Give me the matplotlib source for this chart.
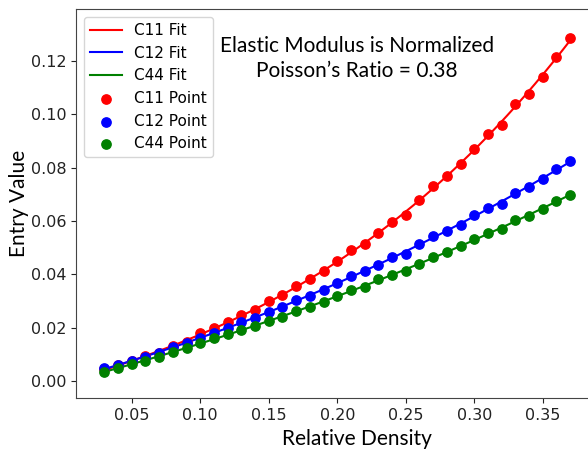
"""Normalized elastic constants vs relative density, with polynomial fits."""

import matplotlib

matplotlib.use("Agg")
import matplotlib.pyplot as plt
import numpy as np

density = np.round(np.arange(0.03, 0.375, 0.01), 2)

c11 = [0.0045, 0.0060, 0.0075, 0.0093, 0.0106, 0.0132, 0.0147, 0.0178, 0.0197,
       0.0221, 0.0246, 0.0266, 0.0298, 0.0321, 0.0357, 0.0382, 0.0411, 0.0451,
       0.0489, 0.0514, 0.0555, 0.0596, 0.0621, 0.0680, 0.0732, 0.0769, 0.0812,
       0.0870, 0.0925, 0.0960, 0.1038, 0.1076, 0.1138, 0.1216, 0.1285]
c12 = [0.0047, 0.0061, 0.0075, 0.0090, 0.0105, 0.0129, 0.0144, 0.0162, 0.0179,
       0.0200, 0.0220, 0.0236, 0.0258, 0.0276, 0.0305, 0.0320, 0.0341, 0.0368,
       0.0395, 0.0412, 0.0436, 0.0465, 0.0476, 0.0514, 0.0545, 0.0562, 0.0586,
       0.0621, 0.0647, 0.0665, 0.0706, 0.0726, 0.0756, 0.0794, 0.0825]
c44 = [0.0034, 0.0050, 0.0063, 0.0076, 0.0089, 0.0108, 0.0123, 0.0144, 0.0160,
       0.0176, 0.0191, 0.0205, 0.0225, 0.0240, 0.0262, 0.0277, 0.0295, 0.0320,
       0.0341, 0.0354, 0.0381, 0.0398, 0.0411, 0.0439, 0.0464, 0.0485, 0.0505,
       0.0531, 0.0554, 0.0570, 0.0604, 0.0619, 0.0645, 0.0676, 0.0697]

series = [("C11", c11, "red"), ("C12", c12, "blue"), ("C44", c44, "green")]

label_font = ["Lato", "DejaVu Sans"]


def main() -> None:
    fig = plt.figure(figsize=(5.88, 4.49), dpi=100)
    # the original is cropped on the right: the axes run past the image edge
    ax = fig.add_axes([76 / 588, 1 - 398.3 / 449, 562 / 588, 389 / 449])

    xs = np.linspace(density[0], density[-1], 200)
    for name, vals, color in series:
        coef = np.polyfit(density, vals, 3)
        ax.plot(xs, np.polyval(coef, xs), color=color, lw=1.5, label=f"{name} Fit")
    for name, vals, color in series:
        ax.scatter(density, vals, color=color, s=45, zorder=3, label=f"{name} Point")

    ax.set_xlim(0.0093, 0.4195)
    ax.set_ylim(-0.0065, 0.1393)
    ax.set_xticks([0.05, 0.10, 0.15, 0.20, 0.25, 0.30, 0.35])
    ax.set_yticks([0.00, 0.02, 0.04, 0.06, 0.08, 0.10, 0.12])
    ax.tick_params(labelsize=11.5, colors="#222222")
    for s in ax.spines.values():
        s.set_color("#444444")

    ax.set_xlabel("Relative Density", fontsize=15, family=label_font, labelpad=4)
    ax.set_ylabel("Entry Value", fontsize=15, family=label_font, labelpad=1)

    ax.text(0.5, 1 - 49 / 389,
            "Elastic Modulus is Normalized\nPoisson\u2019s Ratio = 0.38",
            transform=ax.transAxes, ha="center", va="center", fontsize=15,
            family=label_font, linespacing=1.35)

    ax.legend(loc="upper left", fontsize=11, handlelength=2.1,
              borderaxespad=0.5)

    fig.savefig("out.png", dpi=100)


if __name__ == "__main__":
    main()
